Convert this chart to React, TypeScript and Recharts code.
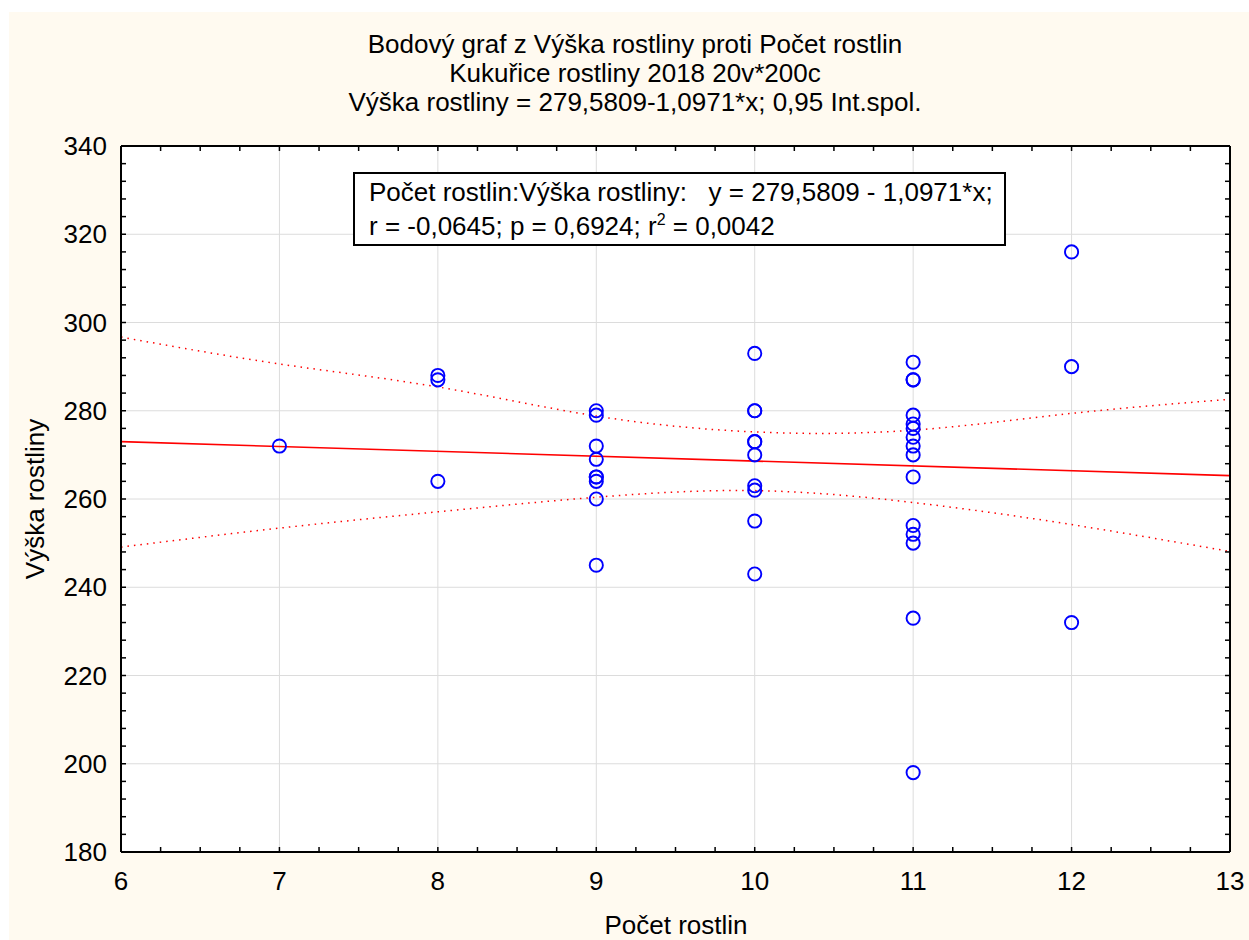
import {
  ComposedChart,
  Scatter,
  Line,
  XAxis,
  YAxis,
  CartesianGrid,
} from "recharts";

const FONT = '"Liberation Sans", Arial, sans-serif';

// pocet rostlin (x) / vyska rostliny (y)
const plantCount = [
  7,
  8, 8, 8,
  9, 9, 9, 9, 9, 9, 9, 9, 9,
  10, 10, 10, 10, 10, 10, 10, 10, 10, 10,
  11, 11, 11, 11, 11, 11, 11, 11, 11, 11, 11, 11, 11, 11, 11,
  12, 12, 12,
];
const plantHeight = [
  272,
  288, 287, 264,
  280, 279, 272, 269, 265, 265, 264, 260, 245,
  293, 280, 280, 273, 273, 270, 263, 262, 255, 243,
  291, 287, 287, 279, 277, 276, 274, 272, 270, 265, 254, 252, 250, 233, 198,
  316, 290, 232,
];

// regression line endpoints and 0.95 confidence band, read at integer x
const bandX = [6, 7, 8, 9, 10, 11, 12, 13];
const bandUpper = [296.7, 290.6, 285.4, 278.8, 275.2, 275.6, 279.4, 282.6];
const bandLower = [249.1, 253.4, 257.1, 260.4, 261.9, 259.2, 254.2, 248.1];
const fitX = [6, 13];
const fitY = [273.0, 265.3];

const xMinor = Array.from({ length: 29 }, (_, i) => 6 + i * 0.25);
const yMinor = Array.from({ length: 41 }, (_, i) => 180 + i * 4);
const xMajor = [6, 7, 8, 9, 10, 11, 12, 13];
const yMajor = [180, 200, 220, 240, 260, 280, 300, 320, 340];

const points = plantCount.map((x, i) => ({ x, y: plantHeight[i] }));
const upper = bandX.map((x, i) => ({ x, y: bandUpper[i] }));
const lower = bandX.map((x, i) => ({ x, y: bandLower[i] }));
const fit = fitX.map((x, i) => ({ x, y: fitY[i] }));

const TICK = 5;
const FS = 26;

function BottomTick(props: any) {
  const { x, y, payload } = props;
  const major = Number.isInteger(payload.value);
  return (
    <g>
      <line x1={x} y1={y} x2={x} y2={y - TICK} stroke="#000" strokeWidth={1.5} />
      {major && (
        <text x={x} y={y + 38} textAnchor="middle" fontSize={FS} fontFamily={FONT} fill="#000">
          {payload.value}
        </text>
      )}
    </g>
  );
}

function TopTick(props: any) {
  const { x, y } = props;
  return <line x1={x} y1={y} x2={x} y2={y + TICK} stroke="#000" strokeWidth={1.5} />;
}

function LeftTick(props: any) {
  const { x, y, payload } = props;
  const major = payload.value % 20 === 0;
  return (
    <g>
      <line x1={x} y1={y} x2={x + TICK} y2={y} stroke="#000" strokeWidth={1.5} />
      {major && (
        <text x={x - 14} y={y + 9} textAnchor="end" fontSize={FS} fontFamily={FONT} fill="#000">
          {payload.value}
        </text>
      )}
    </g>
  );
}

function RightTick(props: any) {
  const { x, y } = props;
  return <line x1={x} y1={y} x2={x - TICK} y2={y} stroke="#000" strokeWidth={1.5} />;
}

function Ring(props: any) {
  const { cx, cy } = props;
  return <circle cx={cx} cy={cy} r={6.6} fill="none" stroke="#0000ff" strokeWidth={1.9} />;
}

const axisLine = { stroke: "#000", strokeWidth: 2 };

export default function App() {
  return (
    <div
      style={{
        position: "absolute",
        left: 0,
        top: 0,
        width: 1249,
        height: 940,
        background: "#fff",
        fontFamily: FONT,
      }}
    >
      <div
        style={{
          position: "absolute",
          left: 9,
          top: 12,
          width: 1240,
          height: 928,
          background: "#fffaf0",
        }}
      />
      <div style={{ position: "absolute", left: 0, top: 0 }}>
        <ComposedChart
          width={1249}
          height={940}
          margin={{ top: 136, right: 9, bottom: 48, left: 81 }}
        >
          <CartesianGrid
            xAxisId="b"
            yAxisId="l"
            stroke="#dcdcdc"
            strokeWidth={1}
            fill="#fff"
            verticalValues={xMajor}
            horizontalValues={yMajor}
          />
          <XAxis
            xAxisId="b"
            dataKey="x"
            type="number"
            domain={[6, 13]}
            allowDataOverflow
            ticks={xMinor}
            interval={0}
            height={40}
            tickSize={0}
            tickMargin={0}
            tickLine={false}
            axisLine={axisLine}
            tick={<BottomTick />}
          />
          <XAxis
            xAxisId="t"
            orientation="top"
            dataKey="x"
            type="number"
            domain={[6, 13]}
            allowDataOverflow
            ticks={xMinor}
            interval={0}
            height={10}
            tickSize={0}
            tickMargin={0}
            tickLine={false}
            axisLine={axisLine}
            tick={<TopTick />}
          />
          <YAxis
            yAxisId="l"
            dataKey="y"
            type="number"
            domain={[180, 340]}
            allowDataOverflow
            ticks={yMinor}
            interval={0}
            width={40}
            tickSize={0}
            tickMargin={0}
            tickLine={false}
            axisLine={axisLine}
            tick={<LeftTick />}
          />
          <YAxis
            yAxisId="r"
            orientation="right"
            dataKey="y"
            type="number"
            domain={[180, 340]}
            allowDataOverflow
            ticks={yMinor}
            interval={0}
            width={10}
            tickSize={0}
            tickMargin={0}
            tickLine={false}
            axisLine={axisLine}
            tick={<RightTick />}
          />
          <Line
            xAxisId="b"
            yAxisId="l"
            data={upper}
            dataKey="y"
            type="natural"
            stroke="#ff0000"
            strokeWidth={1.5}
            strokeDasharray="1.5 5"
            dot={false}
            isAnimationActive={false}
          />
          <Line
            xAxisId="b"
            yAxisId="l"
            data={lower}
            dataKey="y"
            type="natural"
            stroke="#ff0000"
            strokeWidth={1.5}
            strokeDasharray="1.5 5"
            dot={false}
            isAnimationActive={false}
          />
          <Line
            xAxisId="b"
            yAxisId="l"
            data={fit}
            dataKey="y"
            type="linear"
            stroke="#ff0000"
            strokeWidth={1.6}
            dot={false}
            isAnimationActive={false}
          />
          <Scatter
            xAxisId="b"
            yAxisId="l"
            data={points}
            dataKey="y"
            shape={<Ring />}
            isAnimationActive={false}
          />
        </ComposedChart>
      </div>

      <div
        style={{
          position: "absolute",
          left: 0,
          top: 30,
          width: 1270,
          textAlign: "center",
          fontSize: FS,
          lineHeight: "29px",
          color: "#000",
        }}
      >
        <div>Bodový graf z Výška rostliny proti Počet rostlin</div>
        <div>Kukuřice rostliny 2018 20v*200c</div>
        <div>Výška rostliny = 279,5809-1,0971*x; 0,95 Int.spol.</div>
      </div>

      <div
        style={{
          position: "absolute",
          left: 353,
          top: 172,
          width: 653,
          height: 74,
          border: "2px solid #000",
          background: "#fff",
          fontSize: FS,
          lineHeight: "34px",
          paddingLeft: 14,
          boxSizing: "border-box",
          color: "#000",
          whiteSpace: "pre",
        }}
      >
        <div style={{ paddingTop: 1 }}>Počet rostlin:Výška rostliny:   y = 279,5809 - 1,0971*x;</div>
        <div>
          r = -0,0645; p = 0,6924; r<sup style={{ fontSize: 16, verticalAlign: 10, lineHeight: 0 }}>2</sup> = 0,0042
        </div>
      </div>

      <div
        style={{
          position: "absolute",
          left: 576,
          top: 910,
          width: 200,
          textAlign: "center",
          fontSize: FS,
          lineHeight: "30px",
          color: "#000",
        }}
      >
        Počet rostlin
      </div>
      <div
        style={{
          position: "absolute",
          left: 35 - 100,
          top: 499 - 15,
          width: 200,
          textAlign: "center",
          fontSize: FS,
          lineHeight: "30px",
          color: "#000",
          transform: "rotate(-90deg)",
        }}
      >
        Výška rostliny
      </div>
    </div>
  );
}
